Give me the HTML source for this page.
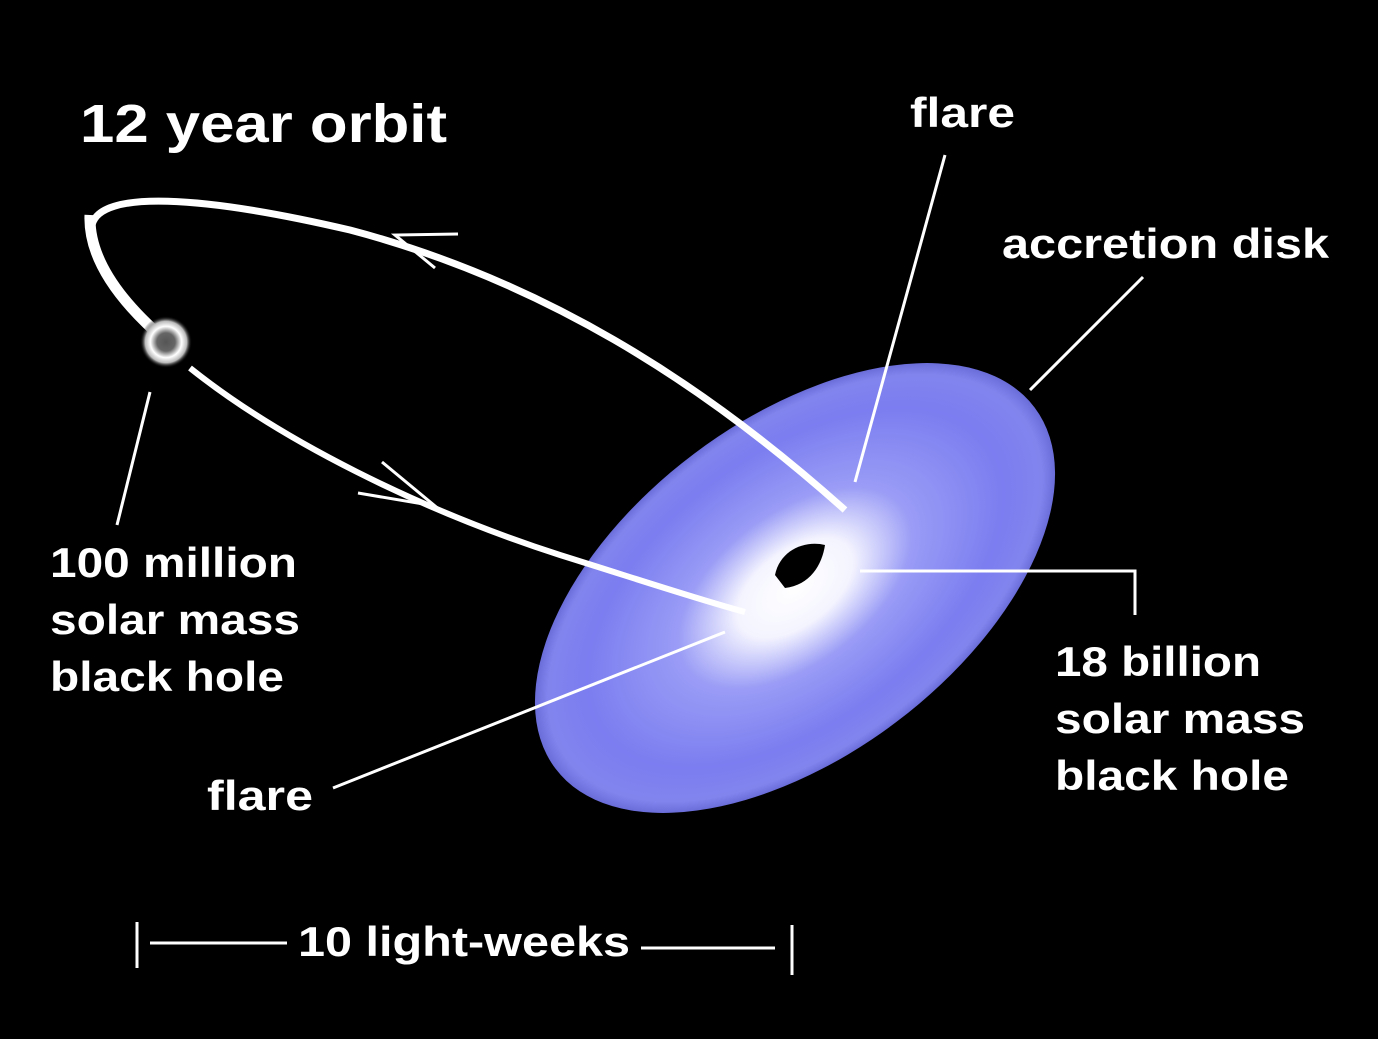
<!DOCTYPE html>
<html><head><meta charset="utf-8"><style>
html,body{margin:0;padding:0;background:#000;}
svg{display:block}
text{font-family:"Liberation Sans",sans-serif;font-weight:bold;fill:#fff;}
</style></head><body>
<svg width="1378" height="1039" viewBox="0 0 1378 1039" xmlns="http://www.w3.org/2000/svg">
<defs>
<radialGradient id="disk" cx="0.5" cy="0.5" r="0.5">
<stop offset="0" stop-color="#ffffff"/>
<stop offset="0.22" stop-color="#f4f4ff"/>
<stop offset="0.45" stop-color="#9a9cf6"/>
<stop offset="0.8" stop-color="#7b7df0"/>
<stop offset="0.95" stop-color="#8284ee"/>
<stop offset="1" stop-color="#6a6cd8"/>
</radialGradient>
<radialGradient id="ring" cx="0.5" cy="0.5" r="0.5">
<stop offset="0" stop-color="#555"/>
<stop offset="0.35" stop-color="#666"/>
<stop offset="0.6" stop-color="#fff"/>
<stop offset="0.8" stop-color="#bbb"/>
<stop offset="1" stop-color="#000" stop-opacity="0"/>
</radialGradient>
</defs>
<rect width="1378" height="1039" fill="#000"/>
<ellipse cx="795" cy="588" rx="300" ry="168" transform="rotate(-37 795 588)" fill="url(#disk)"/>
<path d="M845 510 C 700 380, 540 280, 350 230 C 200 195, 100 190, 92 225 C 92 270, 140 320, 175 355" fill="none" stroke="#fff" stroke-width="7"/>
<path d="M90 215 C 88 265, 130 310, 165 340" fill="none" stroke="#fff" stroke-width="11"/>
<path d="M190 368 C 280 440, 420 510, 560 555 C 640 580, 700 600, 745 612" fill="none" stroke="#fff" stroke-width="6"/>
<circle cx="166" cy="342" r="26" fill="url(#ring)"/>
<path d="M775 575 C 780 550, 805 540, 825 545 C 822 565, 810 585, 785 588 Z" fill="#000"/>
<g stroke="#fff" stroke-width="3" fill="none">
<path d="M458 234 L395 235 L435 268"/>
<path d="M358 493 L435 506 L382 462"/>
<line x1="945" y1="155" x2="855" y2="482"/>
<line x1="1143" y1="277" x2="1030" y2="390"/>
<line x1="150" y1="392" x2="117" y2="525"/>
<line x1="333" y1="788" x2="725" y2="632"/>
<path d="M860 571 L1135 571 L1135 615"/>
<line x1="137" y1="922" x2="137" y2="968"/>
<line x1="150" y1="943" x2="287" y2="943"/>
<line x1="641" y1="948" x2="775" y2="948"/>
<line x1="792" y1="925" x2="792" y2="975"/>
</g>
<text x="80" y="142" font-size="54" textLength="367" lengthAdjust="spacingAndGlyphs">12 year orbit</text>
<text x="910" y="127" font-size="42" textLength="105" lengthAdjust="spacingAndGlyphs">flare</text>
<text x="1002" y="258" font-size="42" textLength="327" lengthAdjust="spacingAndGlyphs">accretion disk</text>
<text x="50" y="577" font-size="42" textLength="247" lengthAdjust="spacingAndGlyphs">100 million</text>
<text x="50" y="634" font-size="42" textLength="250" lengthAdjust="spacingAndGlyphs">solar mass</text>
<text x="50" y="691" font-size="42" textLength="234" lengthAdjust="spacingAndGlyphs">black hole</text>
<text x="207" y="810" font-size="42" textLength="106" lengthAdjust="spacingAndGlyphs">flare</text>
<text x="1055" y="676" font-size="42" textLength="206" lengthAdjust="spacingAndGlyphs">18 billion</text>
<text x="1055" y="733" font-size="42" textLength="250" lengthAdjust="spacingAndGlyphs">solar mass</text>
<text x="1055" y="790" font-size="42" textLength="234" lengthAdjust="spacingAndGlyphs">black hole</text>
<text x="298" y="956" font-size="42" textLength="332" lengthAdjust="spacingAndGlyphs">10 light-weeks</text>
</svg>
</body></html>
